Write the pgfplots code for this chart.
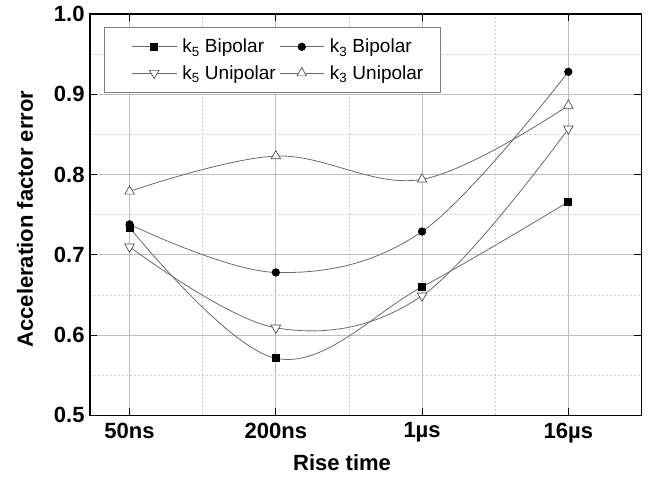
\documentclass[border=0pt]{standalone}
\usepackage{pgfplots}
\pgfplotsset{compat=1.18}
\usepackage{fontspec}
\setmainfont{Liberation Sans}
\definecolor{linegray}{HTML}{6A6A6A}
\definecolor{markgray}{HTML}{505050}
\definecolor{majgrid}{HTML}{BDBDBD}
\definecolor{mingrid}{HTML}{D0D0D0}
\begin{document}
\begin{tikzpicture}
\begin{axis}[
  scale only axis, width=551pt, height=401pt,
  xmin=-0.27, xmax=3.5, ymin=0.5, ymax=1.0,
  xtick={0,1,2,3}, xticklabels={50ns,200ns,1µs,16µs},
  minor xtick={0.5,1.5,2.5},
  ytick={0.5,0.6,0.7,0.8,0.9,1.0}, yticklabels={0.5,0.6,0.7,0.8,0.9,1.0},
  minor ytick={0.55,0.65,0.75,0.85,0.95},
  grid=both,
  major grid style={draw=majgrid, line width=0.7pt},
  minor grid style={draw=mingrid, dash pattern=on 2pt off 2pt, line width=0.6pt},
  tick align=inside, major tick length=7pt, minor tick length=0pt,
  tick style={black, line width=1.1pt},
  axis line style={line width=1.3pt},
  ticklabel style={font=\bfseries\fontsize{22}{22}\selectfont},
  xticklabel style={yshift=-4pt},
  yticklabel style={xshift=-2pt},
  xlabel={Rise time}, ylabel={Acceleration factor error},
  label style={font=\bfseries\fontsize{22}{22}\selectfont},
  xlabel style={at={(axis description cs:0.457,-0.118)}, anchor=center},
  ylabel style={at={(axis description cs:-0.118,0.489)}, anchor=center},
  legend columns=2, legend cell align=left,
  legend style={at={(axis description cs:0.025,0.968)}, anchor=north west,
    draw=gray, line width=0.7pt, fill=white,
    font=\fontsize{19}{22}\selectfont,
    inner xsep=5pt, inner ysep=10pt, row sep=7pt},
  legend image code/.code={%
    \path[draw=none] (-23pt,0pt) -- (48pt,0pt);
    \draw[mark repeat=2,mark phase=2,#1] plot coordinates {(0pt,0pt) (22pt,0pt) (44pt,0pt)};},
]
\addplot[smooth, tension=0.6, linegray, line width=0.8pt,
  mark=square*, mark size=3.5pt, mark options={black, fill=black, solid}]
  coordinates {(0,0.734) (1,0.571) (2,0.660) (3,0.766)};
\addlegendentry{k\textsubscript{5} Bipolar\hspace*{-21pt}}
\addplot[smooth, tension=0.6, linegray, line width=0.8pt,
  mark=*, mark size=3.7pt, mark options={black, fill=black, solid}]
  coordinates {(0,0.738) (1,0.678) (2,0.729) (3,0.928)};
\addlegendentry{k\textsubscript{3} Bipolar\hspace*{10pt}}
\addplot[smooth, tension=0.6, linegray, line width=0.8pt,
  mark=triangle*, mark size=5.5pt, mark options={draw=markgray, fill=white, rotate=180, line width=0.7pt}]
  coordinates {(0,0.710) (1,0.609) (2,0.649) (3,0.857)};
\addlegendentry{k\textsubscript{5} Unipolar\hspace*{-21pt}}
\addplot[smooth, tension=0.6, linegray, line width=0.8pt,
  mark=triangle*, mark size=5.5pt, mark options={draw=markgray, fill=white, line width=0.7pt}]
  coordinates {(0,0.779) (1,0.823) (2,0.794) (3,0.886)};
\addlegendentry{k\textsubscript{3} Unipolar\hspace*{10pt}}
\end{axis}
\path ([shift={(-90pt,-63pt)}]current axis.south west) rectangle ([shift={(8.5pt,14pt)}]current axis.north east);
\end{tikzpicture}
\end{document}
